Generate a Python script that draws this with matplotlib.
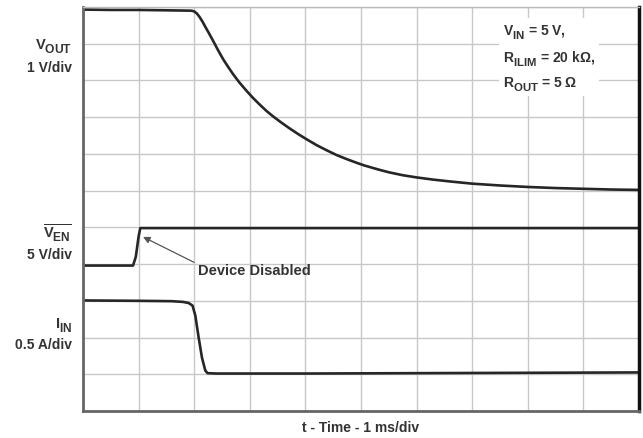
import matplotlib
matplotlib.use('Agg')
from matplotlib import pyplot as plt
import matplotlib._mathtext as mt

# bigger, lower subscripts, like the scope printout
mt.SHRINK_FACTOR = 0.82
mt.FontConstantsBase.sub1 = 0.5
mt.FontConstantsBase.sub2 = 0.6

plt.rcParams['font.family'] = ['Liberation Sans', 'DejaVu Sans']
plt.rcParams['font.weight'] = 'bold'
plt.rcParams['mathtext.fontset'] = 'custom'
plt.rcParams['mathtext.rm'] = 'Liberation Sans:bold'
plt.rcParams['mathtext.bf'] = 'Liberation Sans:bold'
plt.rcParams['mathtext.it'] = 'Liberation Sans:bold'

# data (divisions on the scope screen)
t_vout = [0, 0.5, 1.0, 1.5, 1.95, 2.0, 2.05, 2.1, 2.15, 2.2, 2.26, 2.34, 2.42, 2.52,
          2.61, 2.70, 2.81, 2.94, 3.06, 3.18, 3.3, 3.42, 3.57, 3.72, 3.87, 4.02,
          4.2, 4.38, 4.56, 4.74, 4.9, 5.05, 5.3, 5.5, 5.75, 6.0, 6.3, 6.6, 7.0,
          7.5, 8.0, 8.5, 9.0, 9.5, 10.0]
v_vout = [10.93, 10.92, 10.92, 10.91, 10.9, 10.88, 10.82, 10.72, 10.6, 10.46, 10.3,
          10.08, 9.85, 9.58, 9.37, 9.17, 8.95, 8.72, 8.52, 8.34, 8.17, 8.02, 7.85,
          7.69, 7.54, 7.40, 7.24, 7.1, 6.97, 6.86, 6.77, 6.69, 6.58, 6.50, 6.42,
          6.36, 6.30, 6.25, 6.19, 6.14, 6.10, 6.07, 6.05, 6.03, 6.02]

t_ven = [0, 0.9, 0.95, 1.0, 1.03, 10]
v_ven = [3.96, 3.96, 4.2, 4.75, 4.98, 4.98]

t_iin = [0, 1.0, 1.6, 1.8, 1.9, 1.97, 2.02, 2.08, 2.14, 2.2, 2.24, 2.4, 4, 6, 8, 10]
v_iin = [3.01, 3.0, 2.99, 2.97, 2.94, 2.87, 2.6, 2.0, 1.45, 1.1, 1.03, 1.02, 1.02,
         1.03, 1.04, 1.05]

txt = '#333333'
lc = '#262626'

fig = plt.figure(figsize=(6.43, 4.39), dpi=100)
ax = fig.add_axes([83/643, 27/439, 556/643, 404/439])

ax.plot(t_vout, v_vout, color=lc, lw=1.9, solid_joinstyle='round')
ax.plot(t_ven, v_ven, color=lc, lw=1.9, solid_joinstyle='round')
ax.plot(t_iin, v_iin, color=lc, lw=1.9, solid_joinstyle='round')

ax.set_xlim(0, 10)
ax.set_ylim(0, 11)
ax.set_xticks(range(11))
ax.set_yticks(range(12))
ax.set_xticklabels([])
ax.set_yticklabels([])
ax.tick_params(length=0)
ax.grid(True, color='#c8c8c8', lw=1.0)
ax.set_axisbelow(True)

ax.spines['left'].set_color('#666666')
ax.spines['left'].set_linewidth(2)
ax.spines['bottom'].set_color('#666666')
ax.spines['bottom'].set_linewidth(2)
ax.spines['right'].set_color('#111111')
ax.spines['right'].set_linewidth(2.5)
ax.spines['top'].set_color('#bbbbbb')
ax.spines['top'].set_linewidth(1)

ax.set_xlabel('t - Time - 1 ms/div', fontsize=10, fontweight='bold', color=txt, labelpad=3)

# channel labels
lx = 72/643
fig.text(lx, 0.895, r'$\mathrm{V_{OUT}}$', ha='right', va='center', fontsize=10.5, color=txt)
fig.text(lx, 0.845, '1 V/div', ha='right', va='center', fontsize=10, color=txt)
fig.text(lx, 0.467, r'$\overline{\mathrm{V_{EN}}}$', ha='right', va='center', fontsize=10.5, color=txt)
fig.text(lx, 0.419, '5 V/div', ha='right', va='center', fontsize=10, color=txt)
fig.text(lx, 0.260, r'$\mathrm{I_{IN}}$', ha='right', va='center', fontsize=10.5, color=txt)
fig.text(lx, 0.214, '0.5 A/div', ha='right', va='center', fontsize=10, color=txt)

# conditions box
ax.text(7.55, 9.64, r'$\mathrm{V_{IN}}$ = 5 V,' + '\n' + r'$\mathrm{R_{ILIM}}$ = 20 k$\Omega$,'
        + '\n' + r'$\mathrm{R_{OUT}}$ = 5 $\Omega$',
        ha='left', va='center', fontsize=10, color=txt, linespacing=1.6,
        bbox=dict(fc='white', ec='none', pad=3), zorder=3)

ax.annotate('Device Disabled', xy=(1.08, 4.74), xytext=(2.07, 3.84),
            ha='left', va='center', fontsize=10.5, color=txt,
            arrowprops=dict(arrowstyle='-|>', color='#555555', lw=0.9,
                            mutation_scale=10, relpos=(0, 0.9), shrinkA=1, shrinkB=0))

fig.savefig('out.png', dpi=100)
